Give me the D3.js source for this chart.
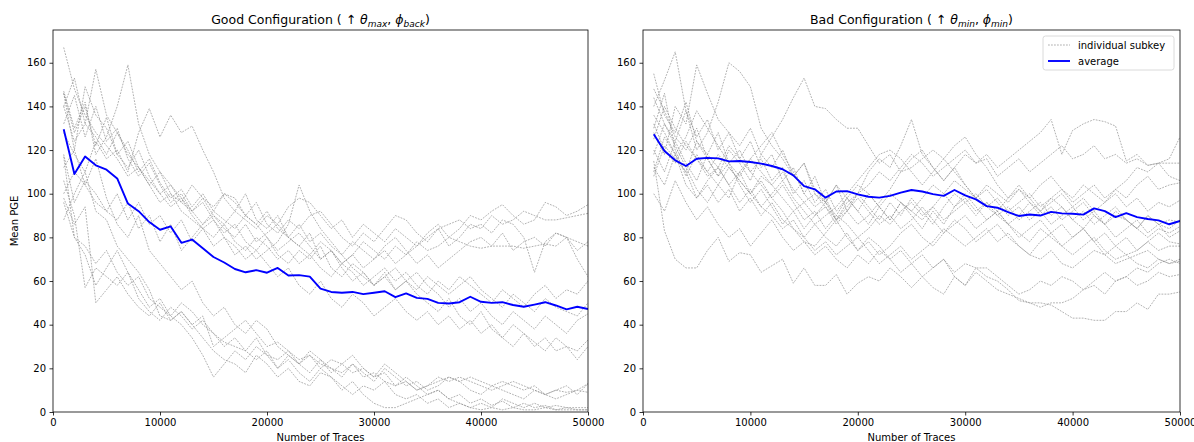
<!DOCTYPE html>
<html><head><meta charset="utf-8">
<script src="https://cdn.jsdelivr.net/npm/d3@7"></script>
<style>body{margin:0;background:#fff} text{font-family:"DejaVu Sans",sans-serif;fill:#000}</style>
</head><body><svg id="c" width="1194" height="442"></svg>
<script>
const traces = [1000,2000,3000,4000,5000,6000,7000,8000,9000,10000,11000,12000,13000,14000,15000,16000,17000,18000,19000,20000,21000,22000,23000,24000,25000,26000,27000,28000,29000,30000,31000,32000,33000,34000,35000,36000,37000,38000,39000,40000,41000,42000,43000,44000,45000,46000,47000,48000,49000,50000];
const xTicks = [0,10000,20000,30000,40000,50000];
const yTicks = [0,20,40,60,80,100,120,140,160];

const goodAverage = [129.5,109,117,113,111,107,95.5,92,87,83.5,85,77.5,79,75,71,68.5,65.5,64,65,63.8,66,62.5,62.7,62,56.5,55,54.6,55,54,54.6,55.3,52.6,54.3,52.3,51.8,50,49.7,50.3,52.8,50.5,50,50.3,49,48.2,49.2,50.3,48.8,47,48.2,47.2];
const badAverage = [127.2,119.6,115.3,112.7,116,116.4,116.2,114.8,115,114.5,113.8,112.7,111.2,108.4,103.5,102,98.2,101,101.2,99.7,98.6,98.2,99,100.5,101.7,101,99.8,99,101.7,99.2,97.4,94.3,93.6,91.6,89.8,90.5,90,91.7,91,90.8,90.4,93.3,92,89.3,91.1,89.3,88.4,87.8,86,87.5];

const goodSubkeys = [
[146,128,140,122,135,118,112,120,108,100,104,96,92,98,90,86,92,88,84,90,86,94,98,96,90,84,88,80,86,82,78,84,80,76,82,86,80,84,90,88,92,95,90,86,88,96,94,90,92,95],
[140,153,132,126,118,128,120,110,116,105,98,102,94,100,92,88,84,90,96,86,82,88,84,90,92,86,80,76,82,78,84,90,88,82,78,84,76,80,86,84,90,86,88,92,90,88,88,89,90,91],
[112,120,149,136,130,118,124,112,104,110,100,96,104,98,94,100,96,90,86,92,84,80,86,78,82,76,72,78,74,70,76,80,74,68,72,66,70,74,78,80,76,82,74,78,80,76,82,80,74,78],
[132,145,126,140,124,130,116,108,114,104,96,100,92,86,90,84,80,86,78,82,86,80,76,72,78,74,68,72,66,70,74,68,72,76,80,84,86,88,84,86,82,88,86,80,64,78,82,80,70,62],
[167,148,136,128,122,116,108,112,104,96,100,92,88,84,80,86,78,74,80,76,70,74,68,72,66,62,68,64,58,62,66,60,64,58,54,60,56,62,58,54,50,56,52,48,54,58,52,56,54,60],
[147,130,142,118,126,140,159,132,118,110,104,98,92,96,88,82,86,78,74,80,72,68,74,70,76,66,62,68,64,58,62,66,60,56,62,58,54,58,62,56,52,48,54,50,46,52,48,46,44,50],
[128,118,110,124,116,120,110,128,139,126,136,128,131,120,110,98,92,100,88,84,90,80,76,82,70,74,66,60,64,58,62,56,60,64,58,54,48,52,46,50,44,40,46,42,38,44,40,36,42,45],
[140,124,132,157,136,128,118,112,106,100,94,98,90,84,88,80,76,70,74,68,62,66,58,54,60,52,48,54,50,44,48,52,46,42,46,40,44,38,42,36,40,34,30,36,32,28,34,30,28,33],
[100,110,104,96,92,100,88,96,86,90,82,88,78,84,76,80,72,76,70,74,78,86,104,92,84,78,72,66,62,58,64,56,60,54,50,46,52,44,40,46,38,34,40,36,30,34,28,30,24,30],
[118,96,106,100,92,88,96,84,90,78,86,74,80,86,92,100,98,90,86,80,74,78,82,76,70,74,68,72,78,74,70,76,72,78,74,76,80,78,76,75,76,76,76,75,76,77,76,80,78,76],
[117,80,72,58,66,74,64,56,48,52,44,50,46,40,36,32,30,28,34,26,24,28,22,26,20,24,22,18,20,16,18,12,14,10,12,16,14,16,14,12,10,12,14,12,10,8,10,12,8,13],
[106,90,57,66,62,58,64,52,46,42,48,44,38,42,36,30,34,28,24,28,20,26,22,18,24,20,16,22,18,14,20,16,12,14,10,12,16,14,10,8,12,10,8,6,10,8,6,8,10,9],
[98,86,94,50,56,62,54,48,44,50,42,46,40,34,28,24,22,18,26,22,16,20,14,12,18,16,10,14,8,4,2,2,4,6,8,10,6,4,2,4,2,6,4,2,4,2,3,2,2,2],
[96,80,76,68,74,64,58,62,52,48,44,40,34,26,16,22,28,24,30,26,20,24,18,14,20,16,12,8,12,10,14,8,6,8,4,6,2,4,2,1,2,1,2,1,1,2,1,1,1,1],
[88,100,110,92,88,76,70,64,56,44,42,46,40,44,30,34,38,42,36,30,32,28,24,26,22,20,18,22,16,18,14,12,16,12,8,10,6,8,4,6,3,5,2,4,2,3,1,2,1,1],
[146,120,104,116,98,86,80,90,74,68,62,56,60,50,44,48,40,36,42,38,30,26,22,28,24,18,22,26,20,16,22,18,14,10,12,14,16,14,16,14,12,14,12,10,12,8,10,9,10,13]
];

const badSubkeys = [
[140,152,165,138,126,134,120,128,116,124,112,118,106,112,100,108,96,104,92,100,94,88,96,90,98,92,86,94,100,96,90,96,92,98,104,98,92,96,100,94,98,92,96,100,94,98,92,96,94,97],
[128,118,140,132,159,146,134,128,122,130,118,112,120,108,114,102,96,104,98,92,100,94,88,96,90,84,92,86,94,100,94,88,92,86,90,96,92,86,90,94,88,92,86,90,88,84,90,86,84,88],
[118,132,124,138,120,128,142,160,156,149,130,122,116,108,114,100,96,90,98,92,86,94,100,96,92,88,94,100,106,102,98,104,100,96,102,98,104,108,102,98,104,100,96,102,98,104,108,102,104,105],
[112,104,118,110,124,116,108,120,114,106,118,126,134,144,153,140,139,134,130,130,122,114,118,110,116,120,112,106,112,118,114,116,108,112,116,110,114,118,122,116,118,122,116,118,114,116,113,114,114,114],
[132,120,114,124,116,110,118,112,106,100,108,104,98,92,96,100,94,88,96,100,104,110,106,112,118,114,108,112,116,120,114,118,112,116,120,124,128,134,118,129,132,134,133,131,115,118,113,114,116,126],
[148,138,126,120,130,116,108,114,104,96,102,94,86,92,84,90,96,88,94,100,110,116,112,122,134,118,112,106,112,104,98,102,96,90,94,88,92,98,94,88,92,86,90,94,88,84,80,84,82,85],
[115,83,70,66,66,74,80,69,73,72,64,67,70,59,66,58,58,63,54,59,62,60,66,62,57,62,57,54,62,58,66,66,62,58,54,56,60,58,62,60,56,60,64,60,62,66,64,68,70,68],
[108,122,116,110,98,104,96,102,92,98,90,96,88,84,80,86,80,76,82,74,80,76,70,74,68,72,66,70,64,68,66,62,60,56,51,50,50,49,46,43,43,42,42,46,46,50,47,54,54,55],
[100,92,106,96,88,94,86,80,84,76,82,88,80,74,78,72,76,70,66,72,68,74,70,64,68,62,66,70,62,58,64,60,56,54,52,50,48,50,50,52,56,58,54,60,62,58,60,64,62,63],
[155,136,128,142,124,118,128,114,120,110,116,106,112,100,106,96,102,92,98,104,100,94,88,96,92,98,104,100,94,98,92,96,90,94,88,92,96,90,94,88,84,90,86,80,84,88,82,86,80,83],
[120,110,124,114,106,118,112,122,116,110,104,98,104,96,88,92,84,90,86,80,84,90,86,92,96,90,94,88,92,96,100,94,98,92,96,100,94,98,102,96,100,104,98,102,106,112,110,114,108,106],
[136,128,118,126,138,130,122,114,108,116,110,104,110,102,96,90,94,86,92,98,92,86,90,84,88,94,88,82,86,90,84,88,92,86,80,84,88,82,86,80,84,78,82,76,80,74,78,82,78,77],
[125,140,130,122,116,108,112,104,110,100,106,98,92,84,78,76,82,88,80,74,78,72,76,82,86,80,76,82,88,84,78,82,86,80,76,72,78,82,76,80,84,78,72,76,72,74,78,74,76,76],
[110,126,118,104,98,106,112,104,96,102,94,90,84,88,80,74,78,72,76,80,74,68,72,76,70,74,78,84,80,76,80,84,78,82,76,72,70,74,68,66,70,74,72,68,70,72,74,70,68,70],
[144,132,122,112,102,96,104,98,110,116,122,128,118,110,100,94,98,88,92,86,90,96,102,110,112,116,120,116,110,104,98,94,90,86,82,78,84,80,76,72,76,80,74,70,72,68,66,70,68,69],
[130,146,120,108,118,110,104,112,106,100,94,100,106,98,92,86,90,94,100,106,112,118,120,116,110,104,110,116,122,126,118,112,104,98,102,96,90,94,88,92,96,90,86,92,88,84,90,86,88,87]
];

const legendLabels = ["individual subkey","average"];

const svg = d3.select("#c");
const plotTop = 30, plotBottom = 412;
const y = d3.scaleLinear().domain([0,175]).range([plotBottom, plotTop]);
const subkeyStroke = "#8c8c8c", subkeyDash = "1.8,1.2";

function addTitle(cx, prefix, s1, sub1, s2, sub2) {
  const t = svg.append("text").attr("x", cx).attr("y", 24).attr("text-anchor","middle").style("font-size","12.5px");
  t.append("tspan").text(prefix + " ( \u2191 ");
  t.append("tspan").style("font-style","italic").text(s1);
  t.append("tspan").style("font-style","italic").style("font-size","9px").attr("dy",3).text(sub1);
  t.append("tspan").attr("dy",-3).text(", ");
  t.append("tspan").style("font-style","italic").text(s2);
  t.append("tspan").style("font-style","italic").style("font-size","9px").attr("dy",3).text(sub2);
  t.append("tspan").attr("dy",-3).text(")");
}

function panel(id, x0, x1, subkeys, avg, legend) {
  const x = d3.scaleLinear().domain([0,50000]).range([x0, x1]);
  const g = svg.append("g");
  g.append("clipPath").attr("id","clip"+id).append("rect").attr("x",x0).attr("y",plotTop).attr("width",x1-x0).attr("height",plotBottom-plotTop);
  const line = d3.line().x((d,i)=>x(traces[i])).y(d=>y(d));
  const lg = g.append("g").attr("clip-path","url(#clip"+id+")");
  subkeys.forEach(s => {
    lg.append("path").attr("d", line(s)).attr("fill","none").attr("stroke",subkeyStroke).attr("stroke-opacity",0.85)
      .attr("stroke-width",0.8).attr("stroke-dasharray",subkeyDash);
  });
  lg.append("path").attr("d", line(avg)).attr("fill","none").attr("stroke","#0000ff").attr("stroke-width",1.9).attr("stroke-linejoin","round");
  const xa = g.append("g").attr("transform",`translate(0,${plotBottom})`)
    .call(d3.axisBottom(x).tickValues(xTicks).tickFormat(d3.format("d")).tickSizeOuter(0).tickSize(3.5).tickPadding(3.5));
  const ya = g.append("g").attr("transform",`translate(${x0},0)`)
    .call(d3.axisLeft(y).tickValues(yTicks).tickSizeOuter(0).tickSize(3.5).tickPadding(3.5));
  [xa, ya].forEach(a => { a.select(".domain").remove(); a.selectAll("text").style("font-size","10px").style("font-family","DejaVu Sans").attr("fill","#000"); a.selectAll("line").attr("stroke","#000").attr("stroke-width",0.8); });
  g.append("rect").attr("x",x0).attr("y",plotTop).attr("width",x1-x0).attr("height",plotBottom-plotTop).attr("fill","none").attr("stroke","#000").attr("stroke-width",0.8);
  g.append("text").attr("x",(x0+x1)/2).attr("y",441).attr("text-anchor","middle").style("font-size","10px").text("Number of Traces");
  if (legend) {
    const lx = 1043, ly = 36;
    g.append("rect").attr("x",lx).attr("y",ly).attr("width",131).attr("height",34).attr("rx",2.5)
      .attr("fill","#fff").attr("fill-opacity",0.8).attr("stroke","#d0d0d0").attr("stroke-width",0.8);
    g.append("line").attr("x1",lx+5).attr("x2",lx+27).attr("y1",ly+9).attr("y2",ly+9).attr("stroke",subkeyStroke).attr("stroke-opacity",0.85).attr("stroke-width",0.8).attr("stroke-dasharray",subkeyDash);
    g.append("text").attr("x",lx+35).attr("y",ly+13).style("font-size","10px").text(legendLabels[0]);
    g.append("line").attr("x1",lx+5).attr("x2",lx+27).attr("y1",ly+25).attr("y2",ly+25).attr("stroke","#0000ff").attr("stroke-width",1.9);
    g.append("text").attr("x",lx+35).attr("y",ly+29).style("font-size","10px").text(legendLabels[1]);
  }
}

panel("L", 53, 588, goodSubkeys, goodAverage, false);
panel("R", 643, 1180, badSubkeys, badAverage, true);
addTitle((53+588)/2, "Good Configuration", "\u03b8", "max", "\u03d5", "back");
addTitle((643+1180)/2, "Bad Configuration", "\u03b8", "min", "\u03d5", "min");
svg.append("text").attr("transform","translate(18,221) rotate(-90)").attr("text-anchor","middle").style("font-size","10px").text("Mean PGE");
</script></body></html>
